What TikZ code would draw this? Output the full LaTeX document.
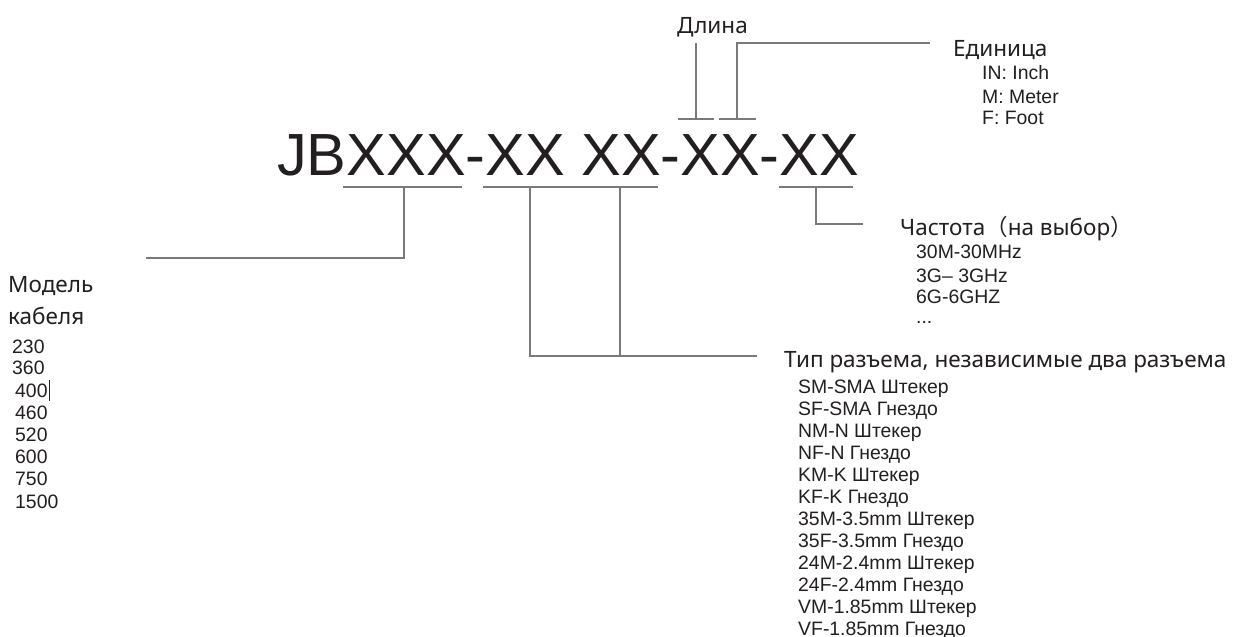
\documentclass[tikz,border=0pt]{standalone}
\usepackage{fontspec}
\setmainfont{Liberation Sans}
\newfontfamily\hfont{Noto Sans}
\newfontfamily\cjkfont{Noto Sans CJK SC}
\definecolor{ink}{HTML}{231F20}
\definecolor{ln}{HTML}{7A7A7A}
\begin{document}
\begin{tikzpicture}[x=1pt,y=-1pt,
  lineS/.style={draw=ln,line width=1.3pt},
  head/.style={anchor=base west,inner sep=0pt,text=ink,font=\hfont\fontsize{22.5}{22.5}\selectfont},
  item/.style={anchor=base west,inner sep=0pt,text=ink,font=\fontsize{19.4}{19.4}\selectfont},
  big/.style={anchor=base west,inner sep=0pt,text=ink,font=\fontsize{59.5}{59.5}\selectfont}]
\useasboundingbox[fill=white] (0,0) rectangle (1237,637);

% main code
\node[big] (code) at (277,175) {JBXXX-XX XX-XX-XX};

% headings
\node[head] (len) at (677,33) {Длина};
\node[head] (unit) at (953,56) {Единица};
\node[head] (freq) at (900,235) {Частота{\cjkfont （}на выбор{\cjkfont ）}};
\node[head] (conn) at (784,367) {Тип разъема, независимые два разъема};
\node[head] (model1) at (8,292) {Модель};
\node[head] (model2) at (8,324) {кабеля};

% unit items
\node[item] (u1) at (982,79.5) {IN: Inch};
\node[item] (u2) at (982,103.5) {M: Meter};
\node[item] (u3) at (982,124.5) {F: Foot};

% frequency items
\node[item] (f1) at (916,258.5) {30M-30MHz};
\node[item] (f2) at (916,282.5) {3G– 3GHz};
\node[item] (f3) at (916,303.5) {6G-6GHZ};
\node[item] (f4) at (916,323.5) {...};

% connector items
\foreach \t [count=\i from 0] in {SM-SMA Штекер,SF-SMA Гнездо,NM-N Штекер,NF-N Гнездо,KM-K Штекер,KF-K Гнездо,35M-3.5mm Штекер,35F-3.5mm Гнездо,24M-2.4mm Штекер,24F-2.4mm Гнездо,VM-1.85mm Штекер,VF-1.85mm Гнездо}
  \node[item] (c\i) at (798,393+22*\i) {\t};

% model numbers
\node[item] (m1) at (12,353.5) {230};
\node[item] (m2) at (12,374.5) {360};
\node[item] (m3) at (15,397.5) {400};
\node[item] (m4) at (15,419.5) {460};
\node[item] (m5) at (15,441.5) {520};
\node[item] (m6) at (15,463.5) {600};
\node[item] (m7) at (15,485.5) {750};
\node[item] (m8) at (15,508.5) {1500};
\draw[ink,line width=0.8pt] (49,380) -- (49,401);

% connector coordinates
\coordinate (a1) at (343,187); \coordinate (a2) at (462,187);
\coordinate (a3) at (404,187); \coordinate (a4) at (404,258); \coordinate (a5) at (146,258);
\coordinate (b1) at (483,187); \coordinate (b2) at (658,187);
\coordinate (b3) at (530,187); \coordinate (b4) at (530,356);
\coordinate (b5) at (620,187); \coordinate (b6) at (620,356); \coordinate (b7) at (757,356);
\coordinate (d1) at (779,187); \coordinate (d2) at (853,187);
\coordinate (d3) at (816,187); \coordinate (d4) at (816,224); \coordinate (d5) at (863,224);
\coordinate (l1) at (678,119); \coordinate (l2) at (714,119);
\coordinate (l3) at (696,119); \coordinate (l4) at (696,43);
\coordinate (e1) at (719,119); \coordinate (e2) at (756,119);
\coordinate (e3) at (737,119); \coordinate (e4) at (737,43); \coordinate (e5) at (930,43);

\path[lineS] (a1) -- (a2) (a3) -- (a4) -- (a5);
\path[lineS] (b1) -- (b2) (b3) -- (b4) -- (b7) (b5) -- (b6);
\path[lineS] (d1) -- (d2) (d3) -- (d4) -- (d5);
\path[lineS] (l1) -- (l2) (l3) -- (l4);
\path[lineS] (e1) -- (e2) (e3) -- (e4) -- (e5);
\end{tikzpicture}
\end{document}
